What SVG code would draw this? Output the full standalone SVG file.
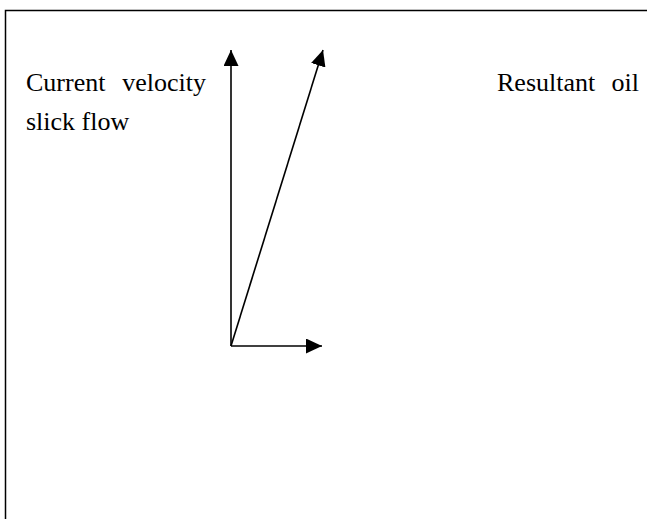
<svg xmlns="http://www.w3.org/2000/svg" width="647" height="519" viewBox="0 0 647 519">
<style>
.lbl{font-family:"Liberation Serif","Times New Roman",serif;font-size:26px;fill:#000}
.end{text-anchor:end}
.ln{stroke:#000;stroke-width:1.6;fill:none}
</style>
<defs>
<marker id="ah" markerWidth="16" markerHeight="15" refX="16" refY="7.5" orient="auto" markerUnits="userSpaceOnUse">
<path d="M0,0 L16,7.5 L0,15 Z" fill="#000"/>
</marker>
</defs>
<rect width="647" height="519" fill="#fff"/>
<rect x="5.5" y="10.5" width="700" height="600" fill="none" stroke="#000" stroke-width="1.5"/>
<g id="labels">
<text class="lbl" x="26" y="91">Current</text>
<text class="lbl end" x="206" y="91">velocity</text>
<text class="lbl" x="26" y="130">slick flow</text>
<text class="lbl" x="497" y="91">Resultant</text>
<text class="lbl end" x="639" y="91">oil</text>
</g>
<g id="connectors">
<line class="ln" x1="231" y1="346" x2="231" y2="50" marker-end="url(#ah)"/>
<line class="ln" x1="231" y1="346" x2="323" y2="50" marker-end="url(#ah)"/>
<line class="ln" x1="231" y1="346" x2="322" y2="346" marker-end="url(#ah)"/>
</g>
</svg>
